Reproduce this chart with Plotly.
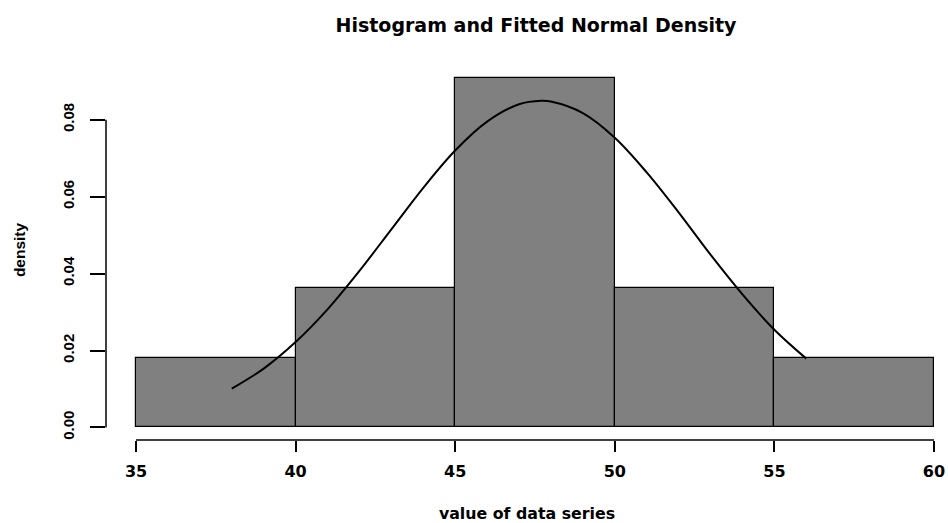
import plotly.graph_objects as go

# Histogram bins (density scale) and fitted normal curve
bin_edges = [35, 40, 45, 50, 55, 60]
bin_density = [0.01818, 0.03636, 0.09091, 0.03636, 0.01818]

curve_x = [38, 39, 40, 41, 42, 43, 44, 45, 46, 47, 47.7, 48, 49, 50, 51, 52, 53, 54, 55, 56]
curve_y = [0.0101, 0.0153, 0.0222, 0.0307, 0.0407, 0.0515, 0.0623, 0.0720, 0.0795, 0.0840,
           0.0849, 0.0847, 0.0817, 0.0753, 0.0663, 0.0559, 0.0449, 0.0346, 0.0254, 0.0179]

x_ticks = [35, 40, 45, 50, 55, 60]
y_ticks = [0.00, 0.02, 0.04, 0.06, 0.08]

mids = [(a + b) / 2 for a, b in zip(bin_edges[:-1], bin_edges[1:])]
widths = [b - a for a, b in zip(bin_edges[:-1], bin_edges[1:])]

WIDE = "DejaVu Sans, Verdana, sans-serif"
NARROW = "Liberation Sans, Arial, Helvetica, sans-serif"

fig = go.Figure()
fig.add_trace(go.Bar(
    x=mids, y=bin_density, width=widths,
    marker=dict(color="#808080", line=dict(color="black", width=1.2)),
    hoverinfo="skip",
))
fig.add_trace(go.Scatter(
    x=curve_x, y=curve_y, mode="lines",
    line=dict(color="black", width=2, shape="spline"),
    hoverinfo="skip",
))

# Detached R-style axis lines
fig.add_shape(type="line", xref="x", yref="paper", x0=x_ticks[0], x1=x_ticks[-1], y0=0, y1=0,
              line=dict(color="black", width=1.5))
fig.add_shape(type="line", xref="paper", yref="y", x0=0, x1=0, y0=y_ticks[0], y1=y_ticks[-1],
              line=dict(color="black", width=1.5))

fig.update_layout(
    width=948, height=523,
    margin=dict(l=106, r=0, t=60, b=83),
    paper_bgcolor="white", plot_bgcolor="white",
    showlegend=False,
    bargap=0,
    font=dict(family=NARROW, color="black"),
    title=dict(text="<b>Histogram and Fitted Normal Density</b>",
               font=dict(family=WIDE, size=19, color="black"),
               x=536 / 948, xanchor="center", y=1 - 25 / 523, yanchor="middle"),
    xaxis=dict(range=[34.06, 60.44], tickvals=x_ticks,
               ticktext=[f"<b>{v}</b>" for v in x_ticks],
               ticks="outside", ticklen=11, tickwidth=1.5, tickcolor="black",
               showline=False, showgrid=False, zeroline=False,
               tickfont=dict(family=WIDE, size=16, color="black"), ticklabelstandoff=6,
               title=dict(text="<b>value of data series</b>",
                          font=dict(family=WIDE, size=15.8, color="black"), standoff=27)),
    yaxis=dict(range=[-0.00325, 0.09551], tickvals=y_ticks,
               ticktext=[f"<b>{v:.2f}</b>" for v in y_ticks], tickangle=-90,
               ticks="outside", ticklen=15, tickwidth=1.5, tickcolor="black",
               showline=False, showgrid=False, zeroline=False,
               tickfont=dict(family=NARROW, size=15, color="black"), ticklabelstandoff=10,
               title=dict(text="<b>density</b>",
                          font=dict(family=NARROW, size=15.5, color="black"), standoff=30)),
)

fig.write_html("out.html")
